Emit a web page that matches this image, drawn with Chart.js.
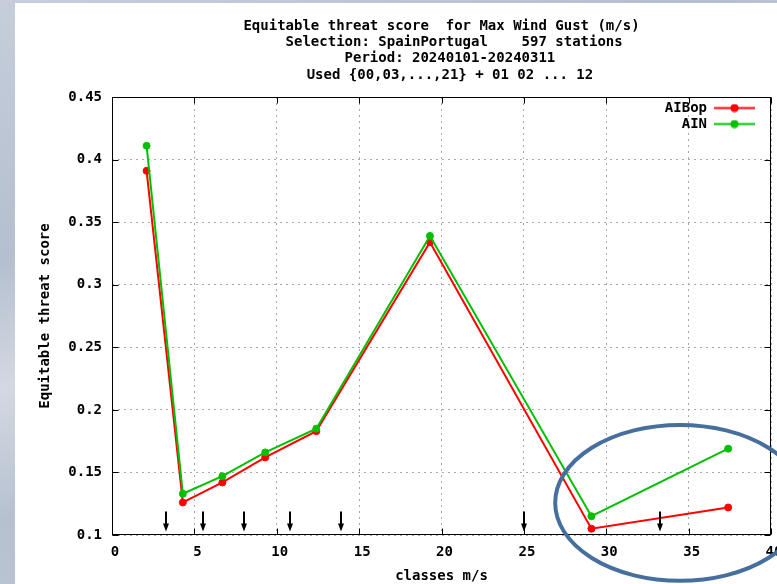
<!DOCTYPE html>
<html>
<head>
<meta charset="utf-8">
<script src="https://cdn.jsdelivr.net/npm/chart.js@4.4.1/dist/chart.umd.min.js"></script>
<style>
  html, body { margin: 0; padding: 0; }
  body {
    width: 777px; height: 584px; overflow: hidden; position: relative;
    background: linear-gradient(160deg, #c6cedb 0%, #b4bfcf 30%, #d3d9e3 45%, #b6c1d0 60%, #c4ccd9 100%);
  }
  #panel { position: absolute; left: 15px; top: 3px; width: 762px; height: 581px; background: #ffffff; }
  canvas { display: block; }
</style>
</head>
<body>
<div id="panel"><canvas id="c" width="762" height="581"></canvas></div>
<script>
// ---- data ----
const classes = [2.1, 4.3, 6.7, 9.3, 12.4, 19.3, 29.1, 37.4];
const aibopScores = [0.391, 0.126, 0.142, 0.162, 0.183, 0.334, 0.105, 0.122];
const ainScores   = [0.411, 0.133, 0.147, 0.166, 0.185, 0.339, 0.115, 0.169];
const xTickValues = [0, 5, 10, 15, 20, 25, 30, 35, 40];
const xTickLabels = ['0', '5', '10', '15', '20', '25', '30', '35', '40'];
const yTickValues = [0.1, 0.15, 0.2, 0.25, 0.3, 0.35, 0.4, 0.45];
const yTickLabels = ['0.1', '0.15', '0.2', '0.25', '0.3', '0.35', '0.4', '0.45'];
const arrowClasses = [3.25, 5.5, 8.0, 10.8, 13.9, 25.0, 33.25];
const arrowTopValue = 0.1188;
const arrowTipValue = 0.1028;
const titleLines = [
  'Equitable threat score  for Max Wind Gust (m/s)',
  '   Selection: SpainPortugal    597 stations',
  '  Period: 20240101-20240311',
  '  Used {00,03,...,21} + 01 02 ... 12'
];
// highlight ellipse, in data units (centre x, centre y, half-width, half-height)
const ellipseCentre = [34.48, 0.1257];
const ellipseRadii = [7.58, 0.0623];

const RED = '#ff0000';
const GREEN = '#00c000';
const GRID = '#a8a8a8';
const FONT = { family: "'DejaVu Sans Mono', monospace", size: 14, weight: 'bold', lineHeight: 16 / 14 };

function legendSample(color) {
  const cv = document.createElement('canvas');
  cv.width = 41; cv.height = 9;
  const g = cv.getContext('2d');
  g.strokeStyle = color; g.lineWidth = 2;
  g.beginPath(); g.moveTo(0, 4.5); g.lineTo(41, 4.5); g.stroke();
  g.fillStyle = color;
  g.beginPath(); g.arc(20.5, 4.5, 4, 0, Math.PI * 2); g.fill();
  return cv;
}
const samples = [legendSample(RED), legendSample(GREEN)];

const framePlugin = {
  id: 'frame',
  beforeDatasetsDraw(chart) {
    const { ctx, chartArea: ca, scales } = chart;
    ctx.save();
    ctx.strokeStyle = '#000'; ctx.lineWidth = 1;
    const L = Math.round(ca.left) + 0.5, R = Math.round(ca.right) - 0.5;
    const T = Math.round(ca.top) + 0.5, B = Math.round(ca.bottom) - 0.5;
    ctx.beginPath();
    xTickValues.forEach(v => {
      const px = Math.round(scales.x.getPixelForValue(v)) + 0.5;
      ctx.moveTo(px, B); ctx.lineTo(px, B - 6);
      ctx.moveTo(px, T); ctx.lineTo(px, T + 6);
    });
    yTickValues.forEach(v => {
      const py = Math.round(scales.y.getPixelForValue(v)) + 0.5;
      ctx.moveTo(L, py); ctx.lineTo(L + 6, py);
      ctx.moveTo(R, py); ctx.lineTo(R - 6, py);
    });
    ctx.stroke();
    ctx.strokeRect(L, T, R - L, B - T);
    ctx.restore();
  }
};

const arrowsPlugin = {
  id: 'arrows',
  afterDatasetsDraw(chart) {
    const { ctx, scales } = chart;
    ctx.save();
    ctx.strokeStyle = '#000'; ctx.fillStyle = '#000'; ctx.lineWidth = 2;
    arrowClasses.forEach(v => {
      const px = Math.round(scales.x.getPixelForValue(v));
      const y0 = scales.y.getPixelForValue(arrowTopValue);
      const y1 = scales.y.getPixelForValue(arrowTipValue);
      ctx.beginPath(); ctx.moveTo(px, y0); ctx.lineTo(px, y1 - 3); ctx.stroke();
      ctx.beginPath();
      ctx.moveTo(px - 3, y1 - 8); ctx.lineTo(px + 3, y1 - 8); ctx.lineTo(px, y1); ctx.closePath();
      ctx.fill();
    });
    ctx.restore();
  }
};

const ellipsePlugin = {
  id: 'ellipse',
  afterDraw(chart) {
    const { ctx, scales } = chart;
    const cx = scales.x.getPixelForValue(ellipseCentre[0]);
    const cy = scales.y.getPixelForValue(ellipseCentre[1]);
    const rx = Math.abs(scales.x.getPixelForValue(ellipseCentre[0] + ellipseRadii[0]) - cx);
    const ry = Math.abs(scales.y.getPixelForValue(ellipseCentre[1] + ellipseRadii[1]) - cy);
    ctx.save();
    ctx.strokeStyle = '#466f9d'; ctx.lineWidth = 4;
    ctx.beginPath(); ctx.ellipse(cx, cy, rx, ry, 0, 0, Math.PI * 2); ctx.stroke();
    ctx.restore();
  }
};

const legendPlace = {
  id: 'legendPlace',
  afterLayout(chart) {
    const l = chart.legend, ca = chart.chartArea;
    if (!l) return;
    l.left = ca.left; l.right = ca.right - 14; l.width = l.right - l.left;
    l.top = ca.top + 2; l.bottom = ca.bottom; l.height = l.bottom - l.top;
  }
};

new Chart(document.getElementById('c'), {
  type: 'line',
  data: {
    datasets: [
      {
        label: 'AIBop',
        data: classes.map((c, i) => ({ x: c, y: aibopScores[i] })),
        borderColor: RED, backgroundColor: RED,
        pointBackgroundColor: RED, pointBorderColor: RED,
        borderWidth: 2, pointRadius: 3.5, pointBorderWidth: 1, pointStyle: 'circle',
        tension: 0, fill: false, order: 1
      },
      {
        label: 'AIN',
        data: classes.map((c, i) => ({ x: c, y: ainScores[i] })),
        borderColor: GREEN, backgroundColor: GREEN,
        pointBackgroundColor: GREEN, pointBorderColor: GREEN,
        borderWidth: 2, pointRadius: 3.5, pointBorderWidth: 1, pointStyle: 'circle',
        tension: 0, fill: false, order: 0
      }
    ]
  },
  options: {
    responsive: false,
    animation: false,
    devicePixelRatio: 1,
    layout: { padding: { left: 0, right: 6, top: 0, bottom: 0 } },
    scales: {
      x: {
        type: 'linear', position: 'bottom', min: 0, max: 40,
        afterBuildTicks: s => { s.ticks = xTickValues.map(v => ({ value: v })); },
        afterFit: s => { s.height = 49; s.paddingLeft = 0; s.paddingRight = 0; },
        ticks: {
          callback: (v, i) => xTickLabels[i],
          font: FONT, color: '#000', padding: 9, labelOffset: 3,
          maxRotation: 0, minRotation: 0, autoSkip: false
        },
        grid: { color: GRID, lineWidth: 1, drawTicks: false },
        border: { display: false, dash: [2, 4] },
        title: { display: true, text: 'classes m/s', font: FONT, color: '#000', padding: { top: 0, bottom: 0 } }
      },
      y: {
        type: 'linear', position: 'left', min: 0.1, max: 0.45,
        afterBuildTicks: s => { s.ticks = yTickValues.map(v => ({ value: v })); },
        afterFit: s => { s.width = 97; s.paddingTop = 0; s.paddingBottom = 0; },
        ticks: {
          callback: (v, i) => yTickLabels[i],
          font: FONT, color: '#000', padding: 10, autoSkip: false
        },
        grid: { color: GRID, lineWidth: 1, drawTicks: false },
        border: { display: false, dash: [2, 4] },
        title: { display: true, text: 'Equitable threat score', font: FONT, color: '#000', padding: { top: 22, bottom: 0 } }
      }
    },
    plugins: {
      title: {
        display: true, fullSize: false,
        text: titleLines,
        color: '#000',
        font: { family: "'DejaVu Sans Mono', monospace", size: 14, weight: 'bold', lineHeight: 16.33 / 14 },
        padding: { top: 14.8, bottom: 13.9 }
      },
      legend: {
        display: true, position: 'chartArea', align: 'start', rtl: true,
        labels: {
          font: FONT, color: '#000', usePointStyle: true, pointStyleWidth: 41, padding: 2,
          sort: (a, b) => a.datasetIndex - b.datasetIndex,
          generateLabels: (chart) => {
            const items = Chart.defaults.plugins.legend.labels.generateLabels(chart);
            items.forEach(it => { it.pointStyle = samples[it.datasetIndex]; });
            return items;
          }
        }
      },
      tooltip: { enabled: false }
    }
  },
  plugins: [framePlugin, arrowsPlugin, ellipsePlugin, legendPlace]
});
</script>
</body>
</html>
